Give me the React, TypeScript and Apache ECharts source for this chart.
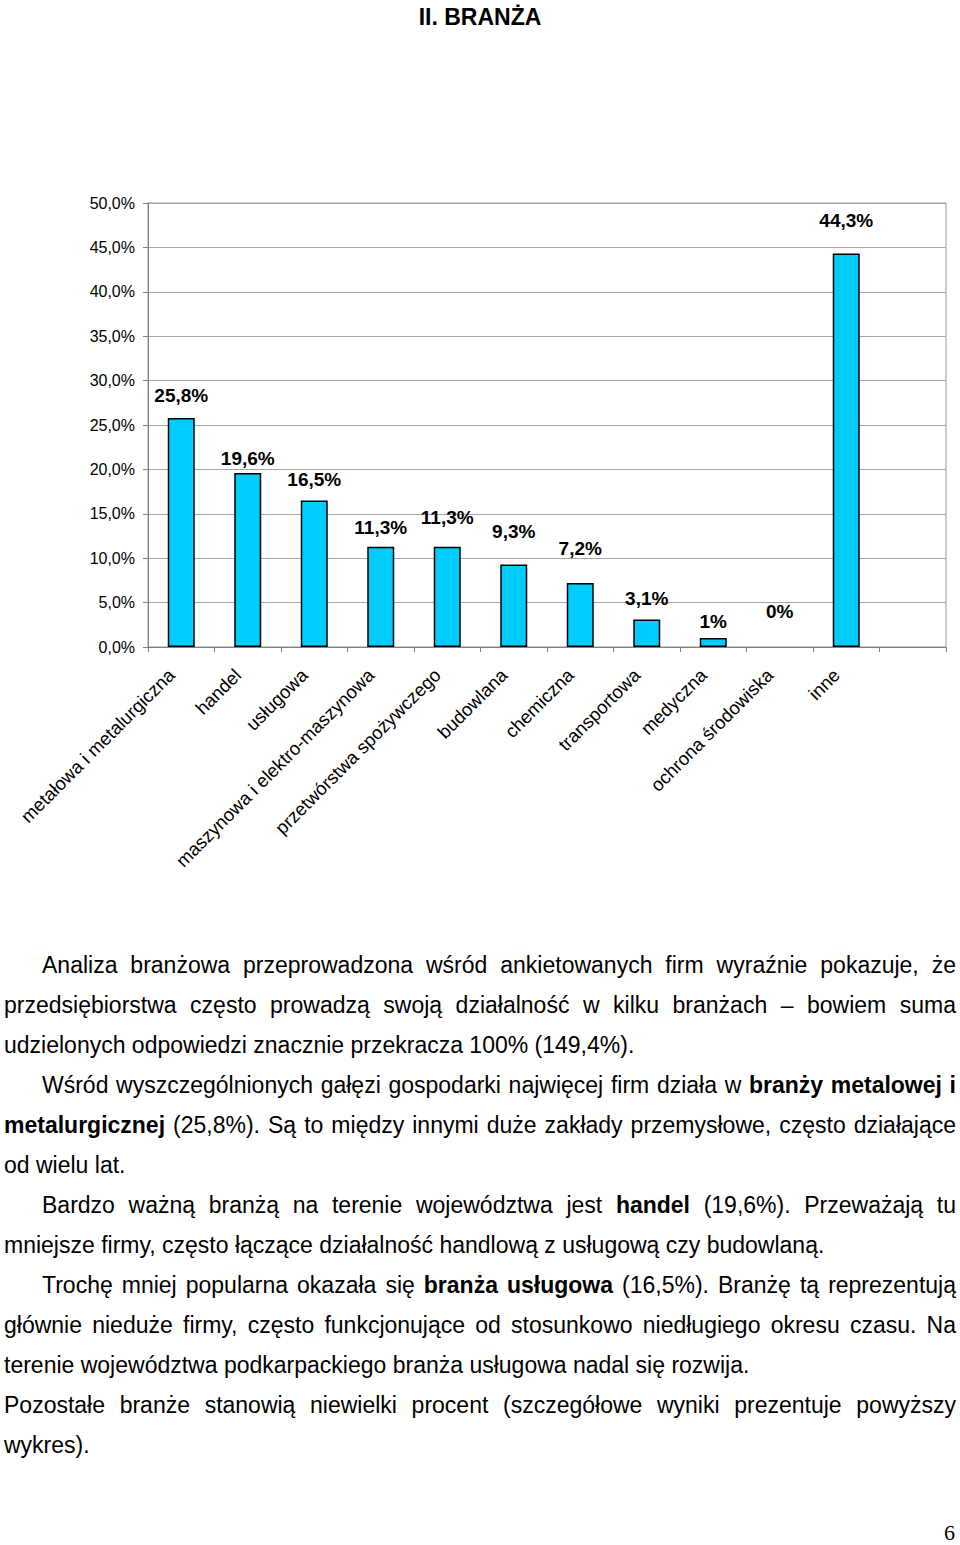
import React, { useEffect, useRef } from "react";
import * as echarts from "echarts";

const categories = [
  "metałowa i metalurgiczna",
  "handel",
  "usługowa",
  "maszynowa i elektro-maszynowa",
  "przetwórstwa spożywczego",
  "budowlana",
  "chemiczna",
  "transportowa",
  "medyczna",
  "ochrona środowiska",
  "inne",
  "",
];
const values = [25.8, 19.6, 16.5, 11.3, 11.3, 9.3, 7.2, 3.1, 1, 0, 44.3];
const valueLabels = ["25,8%", "19,6%", "16,5%", "11,3%", "11,3%", "9,3%", "7,2%", "3,1%", "1%", "0%", "44,3%"];
const yTicks = [0, 5, 10, 15, 20, 25, 30, 35, 40, 45, 50];

// layout only: gap between bar top and its label
const labelGap = [13, 5, 11, 10, 20, 23, 25, 11, 7, 26, 24];

const FONT = "'Liberation Sans', Arial, sans-serif";

type Line = { indent: boolean; last: boolean; parts: (string | { b: string })[] };
const lines: Line[] = [
  { indent: true, last: false, parts: ["Analiza branżowa przeprowadzona wśród ankietowanych firm wyraźnie pokazuje, że"] },
  { indent: false, last: false, parts: ["przedsiębiorstwa często prowadzą swoją działalność w kilku branżach – bowiem suma"] },
  { indent: false, last: true, parts: ["udzielonych odpowiedzi znacznie przekracza 100% (149,4%)."] },
  { indent: true, last: false, parts: ["Wśród wyszczególnionych gałęzi gospodarki najwięcej firm działa w ", { b: "branży metalowej i" }] },
  { indent: false, last: false, parts: [{ b: "metalurgicznej" }, " (25,8%). Są to między innymi duże zakłady przemysłowe, często działające"] },
  { indent: false, last: true, parts: ["od wielu lat."] },
  { indent: true, last: false, parts: ["Bardzo ważną branżą na terenie województwa jest ", { b: "handel" }, " (19,6%). Przeważają tu"] },
  { indent: false, last: true, parts: ["mniejsze firmy, często łączące działalność handlową z usługową czy budowlaną."] },
  { indent: true, last: false, parts: ["Trochę mniej popularna okazała się ", { b: "branża usługowa" }, " (16,5%). Branżę tą reprezentują"] },
  { indent: false, last: false, parts: ["głównie nieduże firmy, często funkcjonujące od stosunkowo niedługiego okresu czasu. Na"] },
  { indent: false, last: true, parts: ["terenie województwa podkarpackiego branża usługowa nadal się rozwija."] },
  { indent: false, last: false, parts: ["Pozostałe branże stanowią niewielki procent (szczegółowe wyniki prezentuje powyższy"] },
  { indent: false, last: true, parts: ["wykres)."] },
];

function Chart() {
  const ref = useRef<HTMLDivElement>(null);
  useEffect(() => {
    if (!ref.current) return;
    const chart = echarts.init(ref.current, undefined, { renderer: "svg" });
    chart.setOption({
      animation: false,
      title: {
        text: "II. BRANŻA",
        left: "center",
        top: 0,
        textStyle: { fontFamily: FONT, fontSize: 23, fontWeight: "bold", color: "#000" },
      },
      grid: {
        left: 148,
        top: 203,
        width: 798,
        height: 444,
        show: true,
        borderColor: "#9a9a9a",
        borderWidth: 1,
        backgroundColor: "transparent",
      },
      xAxis: {
        type: "category",
        data: categories,
        axisLine: { show: true, lineStyle: { color: "#808080", width: 1 } },
        axisTick: { show: true, length: 5, alignWithLabel: false, lineStyle: { color: "#808080" } },
        axisLabel: {
          interval: 0,
          rotate: 45,
          margin: 15,
          padding: [0, 14, 0, 0],
          fontFamily: FONT,
          fontSize: 18.5,
          color: "#000",
        },
      },
      yAxis: {
        type: "value",
        min: 0,
        max: 50,
        interval: 5,
        axisLine: { show: true, lineStyle: { color: "#808080", width: 1 } },
        axisTick: { show: true, length: 5, lineStyle: { color: "#808080" } },
        splitLine: { show: true, lineStyle: { color: "#a6a6a6", width: 1 } },
        axisLabel: {
          margin: 13,
          fontFamily: FONT,
          fontSize: 16,
          color: "#000",
          formatter: (v: number) => (yTicks.includes(v) ? v.toFixed(1).replace(".", ",") + "%" : ""),
        },
      },
      series: [
        {
          type: "bar",
          barWidth: 27,
          data: values.map((v, i) => ({
            value: v,
            itemStyle: {
              color: v === 0 ? "transparent" : "#00CCFF",
              borderColor: "#000",
              borderWidth: v === 0 ? 0 : 1.5,
            },
            label: {
              show: true,
              position: "top",
              distance: labelGap[i],
              formatter: valueLabels[i],
              fontFamily: FONT,
              fontSize: 19,
              fontWeight: "bold",
              color: "#000",
            },
          })),
        },
      ],
    });
    return () => chart.dispose();
  }, []);
  return <div ref={ref} style={{ position: "absolute", left: 0, top: 0, width: 960, height: 900 }} />;
}

export default function App() {
  return (
    <div style={{ position: "absolute", left: 0, top: 0, width: 960, height: 1545, background: "#fff", overflow: "hidden" }}>
      <Chart />
      {lines.map((ln, i) => (
        <div
          key={i}
          style={{
            position: "absolute",
            left: ln.indent ? 42 : 4,
            right: 4,
            top: 945 + i * 40,
            height: 40,
            lineHeight: "40px",
            fontFamily: FONT,
            fontSize: 23,
            color: "#000",
            whiteSpace: "nowrap",
            textAlign: ln.last ? "left" : "justify",
            textAlignLast: ln.last ? "left" : "justify",
          }}
        >
          {ln.parts.map((p, j) => (typeof p === "string" ? <span key={j}>{p}</span> : <b key={j}>{p.b}</b>))}
        </div>
      ))}
      <div
        style={{
          position: "absolute",
          right: 5,
          top: 1518,
          fontFamily: "'Liberation Serif', 'Times New Roman', serif",
          fontSize: 22,
          lineHeight: "30px",
          color: "#000",
        }}
      >
        6
      </div>
    </div>
  );
}
